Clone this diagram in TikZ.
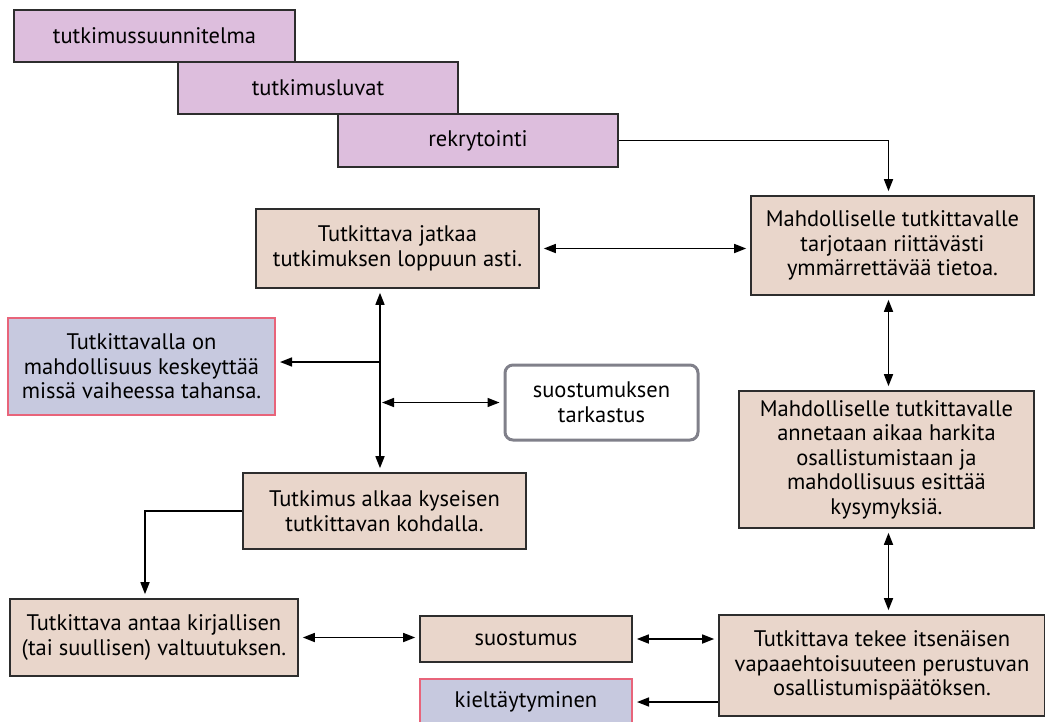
\documentclass[tikz,border=0pt]{standalone}
\usepackage{fontspec}
\setmainfont{PT Sans}
\usepackage{tikz}
\usetikzlibrary{positioning, arrows.meta}
\definecolor{lila}{RGB}{221,190,221}
\definecolor{beige}{RGB}{233,214,203}
\definecolor{sini}{RGB}{199,201,223}
\definecolor{pinkki}{RGB}{232,100,122}
\definecolor{harmaa}{RGB}{128,128,138}
\definecolor{reuna}{RGB}{45,45,45}

\begin{document}
\begin{tikzpicture}[x=1pt, y=-1pt,
    every node/.style={font=\fontsize{22.5}{24.5}\selectfont, align=center, inner sep=0pt},
    laatikko/.style={draw=reuna, line width=1.6pt},
    lupa/.style={laatikko, fill=lila},
    vaihe/.style={laatikko, fill=beige},
    katko/.style={draw=pinkki, line width=2pt, fill=sini},
    tarkistus/.style={draw=harmaa, line width=3pt, rounded corners=8pt, fill=white},
    nuoli/.style={-{Triangle[length=12pt,width=9pt]}, line width=1.5pt, shorten >=4pt},
    tupla/.style={{Triangle[length=12pt,width=9pt]}-{Triangle[length=12pt,width=9pt]}, line width=1.5pt, shorten <=4pt, shorten >=4pt}]
    \clip (0,0) rectangle (1045,721);

    % valmistelu
    \node[lupa, minimum width=281pt, minimum height=52pt] (suunnitelma) at (154.5,36) {tutkimussuunnitelma};
    \node[lupa, minimum width=280pt, minimum height=52pt] (luvat) at (318,88) {tutkimusluvat};
    \node[lupa, minimum width=280pt, minimum height=53pt] (rekry) at (478,140.5) {rekrytointi};

    % oikea sarake
    \node[vaihe, minimum width=283pt, minimum height=99pt] (tieto) at (892.5,245.5) {Mahdolliselle tutkittavalle\\tarjotaan riittävästi\\ymmärrettävää tietoa.};
    \node[vaihe, minimum width=295pt, minimum height=137pt] (harkinta) at (886.5,459.5) {Mahdolliselle tutkittavalle\\annetaan aikaa harkita\\osallistumistaan ja\\mahdollisuus esittää\\kysymyksiä.};
    \node[vaihe, minimum width=326pt, minimum height=101pt] (paatos) at (882,665.5) {Tutkittava tekee itsenäisen\\vapaaehtoisuuteen perustuvan\\osallistumispäätöksen.};

    % alarivi
    \node[vaihe, minimum width=212pt, minimum height=46pt] (suostumus) at (526,639) {suostumus};
    \node[katko, minimum width=212pt, minimum height=46pt] (kielto) at (526,702) {kieltäytyminen};
    \node[vaihe, minimum width=288pt, minimum height=77pt] (valtuutus) at (154,637.5) {Tutkittava antaa kirjallisen\\(tai suullisen) valtuutuksen.};

    % vasen puoli
    \node[vaihe, minimum width=283pt, minimum height=79pt] (jatkaa) at (397.5,248.5) {Tutkittava jatkaa\\tutkimuksen loppuun asti.};
    \node[vaihe, minimum width=283pt, minimum height=76pt] (alkaa) at (384.5,511) {Tutkimus alkaa kyseisen\\tutkittavan kohdalla.};
    \node[katko, minimum width=267pt, minimum height=97pt] (keskeytys) at (141.5,366.5) {Tutkittavalla on\\mahdollisuus keskeyttää\\missä vaiheessa tahansa.};
    \node[tarkistus, minimum width=193pt, minimum height=75pt] (tarkastus) at (601.5,402.5) {suostumuksen\\tarkastus};

    \coordinate (runko) at (380,362);
    \coordinate (mutka) at (145,0);

    % yhteydet
    \draw[nuoli] (rekry.east) -| ([xshift=-4pt]tieto.north);
    \draw[tupla] (jatkaa.east) -- (jatkaa.east -| tieto.west);
    \draw[tupla] ([xshift=-4pt]tieto.south) -- ([xshift=-4pt]tieto.south |- harkinta.north);
    \draw[tupla] ([xshift=2pt]harkinta.south) -- ([xshift=2pt]harkinta.south |- paatos.north);
    \draw[tupla] (suostumus.east) -- (suostumus.east -| paatos.west);
    \draw[nuoli] (paatos.west |- kielto.east) -- (kielto.east);
    \draw[tupla] (valtuutus.east) -- (valtuutus.east -| suostumus.west);
    \draw[nuoli, shorten <=0pt] (alkaa.west) -| (mutka |- valtuutus.north);
    \draw[tupla] (runko |- jatkaa.south) -- (runko |- alkaa.north);
    \draw[nuoli] (runko) -- (runko -| keskeytys.east);
    \draw[tupla, shorten <=2pt] (runko |- tarkastus.west) -- (tarkastus.west);
\end{tikzpicture}
\end{document}
